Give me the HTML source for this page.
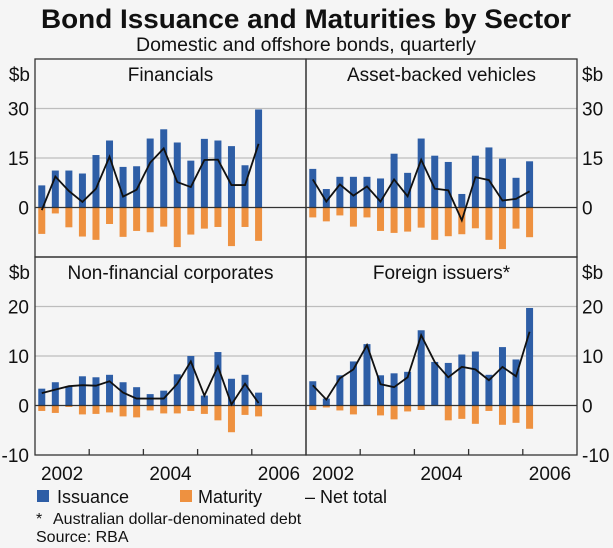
<!DOCTYPE html>
<html><head><meta charset="utf-8">
<style>
html,body{margin:0;padding:0;background:#f5f5f5;}
svg{display:block;font-family:"Liberation Sans",Arial,sans-serif;}
</style></head>
<body>
<svg id="chart" width="613" height="548" viewBox="0 0 613 548" xmlns="http://www.w3.org/2000/svg">
<rect x="0" y="0" width="613" height="548" fill="#f5f5f5"/>
<text x="306" y="28" text-anchor="middle" font-size="27" font-weight="bold" fill="#111" textLength="530" lengthAdjust="spacingAndGlyphs">Bond Issuance and Maturities by Sector</text>
<text x="306" y="51" text-anchor="middle" font-size="19" fill="#111" textLength="340" lengthAdjust="spacingAndGlyphs">Domestic and offshore bonds, quarterly</text>
<g id="plots"></g>
<rect x="37" y="490" width="12" height="12" fill="#2e5ea6"/>
<text x="57" y="503" font-size="18" fill="#111">Issuance</text>
<rect x="180" y="490" width="12" height="12" fill="#ee9140"/>
<text x="198" y="503" font-size="18" fill="#111">Maturity</text>
<text x="305" y="503" font-size="18" fill="#111">– Net total</text>
<text x="36" y="524" font-size="16" fill="#111">*</text>
<text x="53" y="524" font-size="16" fill="#111">Australian dollar-denominated debt</text>
<text x="36" y="542" font-size="16" fill="#111">Source: RBA</text>
</svg>
<script>
const finIss=[6.7,11.2,11.2,10.3,15.9,20.3,12.3,12.5,20.9,23.7,19.7,14.2,20.8,20.3,18.6,12.8,29.7];
const finMat=[-8,-1.8,-6,-8.8,-9.8,-5,-8.9,-7.1,-7.5,-5.8,-12,-8.2,-6.4,-5.9,-11.7,-5.9,-10.1];
const finNet=[-0.8,9.4,5,1.7,5.7,15.4,3.3,5.4,13.6,17.9,7.7,6.2,14.4,14.5,6.8,6.8,19.3];
const abvIss=[11.7,5.6,9.3,9.3,9.3,8.8,16.3,10.5,20.9,15.7,13.8,4.1,15.7,18.2,14.8,9,14];
const abvMat=[-3,-4.2,-2.4,-5.8,-3,-7.1,-7.7,-7.3,-6.1,-9.8,-8.7,-8.1,-6.3,-9.8,-12.6,-6.4,-9];
const abvNet=[8.5,1.8,7,3.6,6.4,1.8,8.5,3.4,14.5,5.7,5.2,-3.9,9.2,8.3,2.1,2.6,4.9];
const nfcIss=[3.4,4.7,3.9,5.9,5.7,6.2,4.7,3.7,2.3,3,6.3,10,2,10.8,5.4,6.2,2.6];
const nfcMat=[-1.1,-1.5,-0.3,-1.8,-1.7,-1.4,-2.2,-2.4,-1,-1.6,-1.6,-1.1,-1.7,-3,-5.4,-1.9,-2.2];
const nfcNet=[2.5,3.2,3.9,4.1,4,4.9,2.6,1.4,1.4,1.4,4.4,8.9,2,7.9,0.2,4.4,0.5];
const forIss=[4.9,1.4,6.1,8.9,12.4,6.1,6.5,6.8,15.2,8.8,8.6,10.3,10.9,6.2,11.8,9.3,19.7];
const forMat=[-0.9,-0.4,-1,-1.8,-0.1,-2,-2.8,-1.2,-0.9,-0.1,-3,-2.7,-3.7,-1.1,-3.9,-3.5,-4.7];
const forNet=[4.1,1.2,5.5,7.3,12.2,4.3,3.7,5.7,14.2,8.8,5.7,7.8,7.3,5.1,7.8,5.9,14.9];
const topTicks=[0,15,30];
const botTicks=[-10,0,10,20];
const yearLabels=["2002","2004","2006"];

const NS="http://www.w3.org/2000/svg";
const plots=document.getElementById('plots');
function mk(tag,attrs,parent){const e=document.createElementNS(NS,tag);for(const k in attrs)e.setAttribute(k,attrs[k]);(parent||plots).appendChild(e);return e;}
const panels=[
 {name:'financials',title:'Financials',x0:35,y0:59,y1:257,min:-15,max:45,iss:finIss,mat:finMat,net:finNet,ticks:topTicks,side:'left'},
 {name:'asset-backed',title:'Asset-backed vehicles',x0:306,y0:59,y1:257,min:-15,max:45,iss:abvIss,mat:abvMat,net:abvNet,ticks:topTicks,side:'right'},
 {name:'non-financial',title:'Non-financial corporates',x0:35,y0:257,y1:455,min:-10,max:30,iss:nfcIss,mat:nfcMat,net:nfcNet,ticks:botTicks,side:'left'},
 {name:'foreign',title:'Foreign issuers*',x0:306,y0:257,y1:455,min:-10,max:30,iss:forIss,mat:forMat,net:forNet,ticks:botTicks,side:'right'}
];
const W=271, Q=W/20, BW=7;
panels.forEach(p=>{
 const g=mk('g',{});
 
 
 const ys=v=>p.y1-(v-p.min)/(p.max-p.min)*(p.y1-p.y0);
 const xs=i=>p.x0+(i+0.5)*Q;
 p.ticks.forEach(t=>{
  if(t!==0&&t!==p.min){const l=mk('line',{x1:p.x0,x2:p.x0+W,y1:ys(t),y2:ys(t),stroke:'#bdbdbd','stroke-width':1.3},g);
  
  }
  const tx=mk('text',{x:p.side==='left'?29:582,y:ys(t)+7,'font-size':19,fill:'#111','text-anchor':p.side==='left'?'end':'start'},g);
  tx.textContent=String(t);
  
  
 });
 const u=mk('text',{x:p.side==='left'?30:582,y:p.y0+22,'font-size':19,fill:'#111','text-anchor':p.side==='left'?'end':'start'},g);
 u.textContent='$b';
 
 
 const tt=mk('text',{x:p.x0+W/2,y:p.y0+22,'font-size':19,fill:'#111','text-anchor':'middle'},g);
 tt.textContent=p.title;
 
 
 p.iss.forEach((v,i)=>{
  const r=mk('rect',{x:xs(i)-BW/2,y:ys(v),width:BW,height:ys(0)-ys(v),fill:'#2e5ea6'},g);
  
  
 });
 p.mat.forEach((v,i)=>{
  const r=mk('rect',{x:xs(i)-BW/2,y:ys(0),width:BW,height:ys(v)-ys(0),fill:'#ee9140'},g);
  
  
 });
 const z=mk('line',{x1:p.x0,x2:p.x0+W,y1:ys(0),y2:ys(0),stroke:'#333','stroke-width':1.3},g);
 
 
 const pl=mk('polyline',{points:p.net.map((v,i)=>xs(i)+','+ys(v)).join(' '),fill:'none',stroke:'#111','stroke-width':1.8},g);
 
 
 const fr=mk('rect',{x:p.x0,y:p.y0,width:W,height:p.y1-p.y0,fill:'none',stroke:'#333','stroke-width':1.3},g);
 
 
 if(p.y1===455){
  for(let k=1;k<5;k++){const tk=mk('line',{x1:p.x0+k*4*Q,x2:p.x0+k*4*Q,y1:455,y2:449,stroke:'#333','stroke-width':1.3},g);
   
   }
  yearLabels.forEach((yl,j)=>{
   const tx=mk('text',{x:p.x0+(j*8+2)*Q,y:480,'font-size':19,fill:'#111','text-anchor':'middle'},g);
   tx.textContent=yl;
   
   
  });
 }
});
</script>
</body></html>
